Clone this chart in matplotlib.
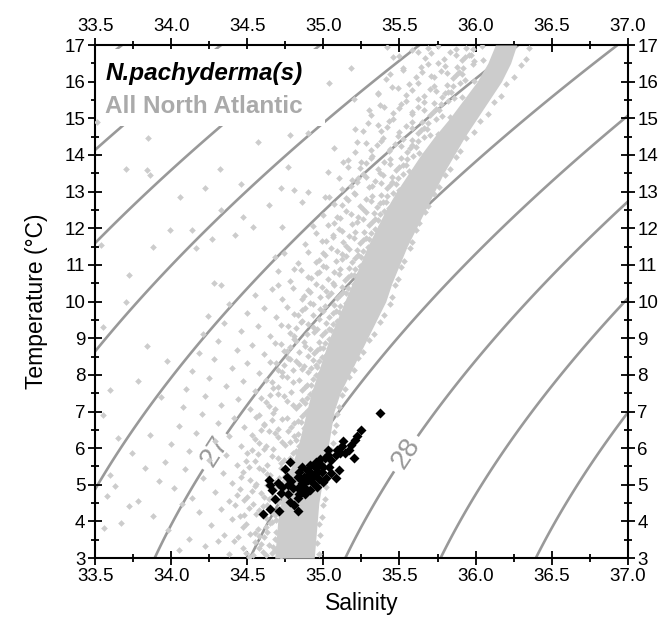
import numpy as np
import matplotlib
matplotlib.use("Agg")
import matplotlib.pyplot as plt
from matplotlib.patches import Rectangle
from matplotlib.ticker import MultipleLocator

plt.rcParams['font.family'] = ['Liberation Sans', 'DejaVu Sans']

# ── Data ─────────────────────────────────────────────────────────────────────
# dense core of the North Atlantic cloud: salinity bounds per temperature
CORE_T = [3.0, 3.5, 4.0, 4.5, 5.0, 5.5, 6.0, 6.5, 7.0, 7.5, 8.0, 8.5, 9.0, 9.5,
          10.0, 10.5, 11.0, 11.5, 12.0, 12.5, 13.0, 13.5, 14.0, 14.5, 15.0,
          15.5, 16.0, 16.5, 17.0]
CORE_LEFT = [34.68, 34.69, 34.70, 34.72, 34.75, 34.79, 34.83, 34.86, 34.89,
             34.92, 34.96, 35.00, 35.04, 35.09, 35.14, 35.19, 35.24, 35.29,
             35.35, 35.41, 35.48, 35.56, 35.64, 35.73, 35.83, 35.92, 36.01,
             36.08, 36.13]
CORE_RIGHT = [34.94, 34.95, 34.96, 34.97, 34.99, 35.01, 35.03, 35.05, 35.07,
              35.11, 35.17, 35.23, 35.29, 35.35, 35.41, 35.45, 35.50, 35.55,
              35.61, 35.67, 35.73, 35.79, 35.86, 35.93, 36.01, 36.09, 36.17,
              36.23, 36.27]

# All North Atlantic stations (salinity, temperature)
ATLANTIC_LOW = [
    (34.72, 3.05), (34.97, 3.12), (34.70, 3.31), (34.96, 3.40), (34.68, 3.22),
    (34.62, 3.08), (34.58, 3.27), (34.55, 3.44), (34.64, 3.36), (34.49, 3.15),
    (34.60, 3.18), (34.38, 3.10), (34.22, 3.33), (34.05, 3.21), (34.31, 3.46),
    (34.71, 3.55), (34.98, 3.62), (34.73, 3.88), (34.97, 3.93), (34.69, 3.71),
    (34.61, 3.58), (34.57, 3.79), (34.65, 3.95), (34.52, 3.66), (34.63, 3.70),
    (34.47, 3.84), (34.35, 3.64), (34.26, 3.91), (34.12, 3.53), (33.98, 3.76),
    (33.56, 3.82), (33.67, 3.96),
    (34.73, 4.05), (34.99, 4.12), (34.72, 4.38), (35.00, 4.44), (34.70, 4.22),
    (34.62, 4.10), (34.58, 4.31), (34.54, 4.47), (34.66, 4.26), (34.48, 4.18),
    (34.60, 4.41), (34.40, 4.08), (34.33, 4.35), (34.18, 4.27), (34.07, 4.49),
    (33.88, 4.15), (33.72, 4.42),
    (34.75, 4.55), (35.01, 4.62), (34.74, 4.85), (35.02, 4.94), (34.72, 4.72),
    (34.64, 4.60), (34.59, 4.79), (34.55, 4.96), (34.67, 4.69), (34.50, 4.66),
    (34.45, 4.88), (34.38, 4.57), (34.29, 4.81), (34.14, 4.63), (34.02, 4.92),
    (33.78, 4.55), (33.58, 4.70), (33.63, 4.98),
    (34.78, 5.06), (35.02, 5.14), (34.77, 5.38), (35.04, 5.45), (34.75, 5.23),
    (34.68, 5.08), (34.63, 5.29), (34.58, 5.47), (34.71, 5.18), (34.52, 5.12),
    (34.47, 5.36), (34.40, 5.05), (34.34, 5.31), (34.21, 5.19), (34.09, 5.42),
    (33.92, 5.11), (33.83, 5.46), (33.60, 5.28),
    (34.81, 5.56), (35.04, 5.63), (34.80, 5.88), (35.05, 5.95), (34.78, 5.72),
    (34.72, 5.59), (34.66, 5.80), (34.61, 5.97), (34.74, 5.68), (34.55, 5.64),
    (34.50, 5.86), (34.43, 5.54), (34.36, 5.82), (34.25, 5.69), (34.12, 5.91),
    (33.96, 5.62), (33.74, 5.87),
    (34.84, 6.05), (35.06, 6.13), (34.83, 6.38), (35.07, 6.45), (34.82, 6.22),
    (34.75, 6.09), (34.70, 6.30), (34.64, 6.47), (34.78, 6.18), (34.58, 6.14),
    (34.53, 6.37), (34.46, 6.06), (34.38, 6.33), (34.29, 6.19), (34.16, 6.41),
    (34.00, 6.12), (33.86, 6.36), (33.65, 6.27),
    (34.87, 6.55), (35.08, 6.62), (34.86, 6.88), (35.09, 6.94), (34.85, 6.72),
    (34.79, 6.59), (34.73, 6.80), (34.67, 6.97), (34.81, 6.68), (34.61, 6.64),
    (34.56, 6.86), (34.48, 6.57), (34.41, 6.82), (34.31, 6.69), (34.20, 6.93),
    (34.05, 6.61), (33.55, 6.90),
    (34.90, 7.05), (35.10, 7.12), (34.89, 7.38), (35.12, 7.45), (34.88, 7.22),
    (34.82, 7.09), (34.76, 7.30), (34.70, 7.47), (34.84, 7.18), (34.64, 7.14),
    (34.59, 7.36), (34.52, 7.06), (34.44, 7.33), (34.33, 7.19), (34.22, 7.42),
    (34.08, 7.11), (33.93, 7.39), (33.60, 7.60),
    (34.94, 7.55), (35.14, 7.62), (34.93, 7.88), (35.17, 7.95), (34.92, 7.72),
    (34.86, 7.59), (34.80, 7.80), (34.73, 7.97), (34.88, 7.68), (34.67, 7.64),
    (34.62, 7.86), (34.55, 7.56), (34.47, 7.83), (34.36, 7.69), (34.25, 7.92),
    (34.10, 7.61), (33.78, 7.84),
]

ATLANTIC_MID = [
    (34.98, 8.05), (35.20, 8.13), (34.97, 8.38), (35.23, 8.45), (34.96, 8.22),
    (34.90, 8.09), (34.84, 8.30), (34.77, 8.47), (34.92, 8.18), (34.70, 8.14),
    (34.65, 8.36), (34.58, 8.06), (34.50, 8.33), (34.40, 8.19), (34.28, 8.42),
    (34.14, 8.11), (33.97, 8.37), (34.87, 8.24), (34.93, 8.41), (34.80, 8.12),
    (34.74, 8.27),
    (35.02, 8.55), (35.26, 8.62), (35.01, 8.88), (35.30, 8.94), (35.00, 8.72),
    (34.94, 8.59), (34.88, 8.80), (34.81, 8.97), (34.96, 8.68), (34.74, 8.64),
    (34.68, 8.86), (34.61, 8.57), (34.53, 8.82), (34.43, 8.69), (34.31, 8.93),
    (34.18, 8.61), (33.84, 8.78), (34.91, 8.71), (34.97, 8.90), (34.84, 8.62),
    (34.78, 8.76),
    (35.07, 9.05), (35.33, 9.12), (35.06, 9.38), (35.37, 9.45), (35.05, 9.22),
    (34.99, 9.09), (34.93, 9.30), (34.86, 9.47), (35.01, 9.18), (34.78, 9.14),
    (34.72, 9.36), (34.65, 9.06), (34.57, 9.33), (34.46, 9.19), (34.35, 9.42),
    (34.21, 9.11), (33.55, 9.30), (34.96, 9.24), (35.02, 9.41), (34.89, 9.12),
    (34.82, 9.27),
    (35.12, 9.55), (35.40, 9.62), (35.11, 9.88), (35.44, 9.94), (35.10, 9.72),
    (35.04, 9.59), (34.98, 9.80), (34.91, 9.97), (35.06, 9.68), (34.83, 9.64),
    (34.76, 9.86), (34.69, 9.57), (34.61, 9.83), (34.50, 9.69), (34.38, 9.92),
    (34.24, 9.61), (33.70, 9.98), (35.00, 9.74), (35.07, 9.91), (34.93, 9.62),
    (34.86, 9.77),
    (35.17, 10.05), (35.45, 10.13), (35.16, 10.38), (35.47, 10.45), (35.15, 10.22),
    (35.09, 10.09), (35.02, 10.30), (34.95, 10.47), (35.11, 10.18), (34.87, 10.14),
    (34.80, 10.36), (34.73, 10.06), (34.66, 10.33), (34.55, 10.19), (35.05, 10.24),
    (35.12, 10.41), (34.98, 10.12), (34.91, 10.27),
    (35.22, 10.55), (35.49, 10.62), (35.21, 10.88), (35.51, 10.94), (35.20, 10.72),
    (35.14, 10.59), (35.07, 10.80), (35.00, 10.97), (35.16, 10.68), (34.92, 10.64),
    (34.85, 10.86), (34.78, 10.57), (34.70, 10.83), (35.10, 10.74), (35.17, 10.91),
    (35.03, 10.62), (34.96, 10.77),
    (35.27, 11.05), (35.53, 11.12), (35.26, 11.38), (35.57, 11.45), (35.25, 11.22),
    (35.19, 11.09), (35.12, 11.30), (35.05, 11.47), (35.21, 11.18), (34.97, 11.14),
    (34.90, 11.36), (34.83, 11.06), (34.74, 11.33), (35.15, 11.24), (35.22, 11.41),
    (35.08, 11.12), (35.01, 11.27),
    (35.32, 11.55), (35.58, 11.62), (35.31, 11.88), (35.61, 11.94), (35.30, 11.72),
    (35.24, 11.59), (35.17, 11.80), (35.10, 11.97), (35.26, 11.68), (35.02, 11.64),
    (34.95, 11.86), (34.88, 11.57), (35.20, 11.74), (35.27, 11.91), (35.13, 11.62),
    (35.06, 11.77),
    (35.38, 12.05), (35.63, 12.13), (35.37, 12.38), (35.67, 12.45), (35.36, 12.22),
    (35.30, 12.09), (35.23, 12.30), (35.15, 12.47), (35.32, 12.18), (35.07, 12.14),
    (35.00, 12.36), (34.93, 12.06), (35.26, 12.24), (35.33, 12.41), (35.19, 12.12),
    (35.11, 12.27),
    (35.43, 12.55), (35.69, 12.62), (35.42, 12.88), (35.73, 12.94), (35.41, 12.72),
    (35.35, 12.59), (35.28, 12.80), (35.20, 12.97), (35.37, 12.68), (35.12, 12.64),
    (35.04, 12.86), (35.31, 12.74), (35.38, 12.91), (35.24, 12.62), (35.16, 12.77),
]

ATLANTIC_HIGH = [
    (35.50, 13.05), (35.76, 13.12), (35.49, 13.38), (35.80, 13.45), (35.48, 13.22),
    (35.42, 13.09), (35.34, 13.30), (35.26, 13.47), (35.44, 13.18), (35.18, 13.14),
    (35.10, 13.36), (35.38, 13.24), (35.45, 13.41), (35.30, 13.12), (35.22, 13.27),
    (35.56, 13.55), (35.83, 13.62), (35.55, 13.88), (35.87, 13.94), (35.54, 13.72),
    (35.48, 13.59), (35.40, 13.80), (35.32, 13.97), (35.50, 13.68), (35.24, 13.64),
    (35.16, 13.86), (35.44, 13.74), (35.51, 13.91), (35.36, 13.62), (35.28, 13.77),
    (35.63, 14.05), (35.90, 14.12), (35.62, 14.38), (35.94, 14.45), (35.61, 14.22),
    (35.55, 14.09), (35.47, 14.30), (35.39, 14.47), (35.57, 14.18), (35.31, 14.14),
    (35.22, 14.36), (35.51, 14.24), (35.58, 14.41), (35.43, 14.12), (35.35, 14.27),
    (35.70, 14.55), (35.99, 14.62), (35.69, 14.88), (36.03, 14.94), (35.68, 14.72),
    (35.62, 14.59), (35.54, 14.80), (35.46, 14.97), (35.64, 14.68), (35.38, 14.64),
    (35.29, 14.86), (35.21, 14.70), (35.58, 14.74), (35.65, 14.91), (35.50, 14.62),
    (35.42, 14.77),
    (35.78, 15.05), (36.08, 15.12), (35.77, 15.38), (36.12, 15.45), (35.76, 15.22),
    (35.70, 15.09), (35.62, 15.30), (35.54, 15.47), (35.72, 15.18), (35.46, 15.14),
    (35.37, 15.36), (35.30, 15.22), (35.66, 15.24), (35.73, 15.41), (35.58, 15.12),
    (35.50, 15.27),
    (35.86, 15.55), (36.17, 15.62), (35.85, 15.88), (36.20, 15.94), (35.84, 15.72),
    (35.78, 15.59), (35.70, 15.80), (35.62, 15.97), (35.80, 15.68), (35.54, 15.64),
    (35.45, 15.86), (35.36, 15.70), (35.74, 15.74), (35.81, 15.91), (35.66, 15.62),
    (35.58, 15.77),
    (35.93, 16.05), (36.25, 16.12), (35.92, 16.38), (36.30, 16.45), (35.91, 16.22),
    (35.85, 16.09), (35.77, 16.30), (35.69, 16.47), (35.87, 16.18), (35.61, 16.14),
    (35.52, 16.36), (35.44, 16.20), (35.81, 16.24), (35.88, 16.41), (35.73, 16.12),
    (35.65, 16.27),
    (35.99, 16.55), (36.33, 16.62), (35.98, 16.88), (36.35, 16.92), (35.97, 16.72),
    (35.91, 16.59), (35.83, 16.80), (35.75, 16.96), (35.93, 16.68), (35.67, 16.64),
    (35.58, 16.86), (35.50, 16.70), (35.42, 16.95), (35.87, 16.74), (35.94, 16.91),
    (35.79, 16.62), (35.71, 16.77),
]

# denser speckle just left of the core
ATLANTIC_FILL = [
    (34.51, 3.03), (34.66, 3.13), (34.47, 3.27), (34.59, 3.39), (34.70, 3.46),
    (34.54, 3.08), (34.67, 3.31), (34.41, 3.48), (34.44, 3.57), (34.68, 3.52),
    (34.55, 3.68), (34.72, 3.77), (34.49, 3.93), (34.62, 3.86), (34.58, 3.61),
    (34.66, 3.98), (34.69, 4.03), (34.45, 4.14), (34.56, 4.21), (34.74, 4.29),
    (34.63, 4.45), (34.51, 4.37), (34.68, 4.17), (34.42, 4.46), (34.71, 4.53),
    (34.48, 4.58), (34.61, 4.66), (34.76, 4.77), (34.53, 4.84), (34.69, 4.91),
    (34.43, 4.73), (34.63, 4.99), (34.56, 5.02), (34.74, 5.11), (34.46, 5.21),
    (34.65, 5.27), (34.79, 5.33), (34.60, 5.41), (34.51, 5.49), (34.72, 5.46),
    (34.63, 5.53), (34.80, 5.61), (34.49, 5.66), (34.70, 5.74), (34.57, 5.83),
    (34.82, 5.91), (34.67, 5.99), (34.53, 5.95), (34.86, 6.02), (34.62, 6.07),
    (34.73, 6.16), (34.55, 6.26), (34.81, 6.33), (34.68, 6.42), (34.59, 6.49),
    (34.77, 6.46), (34.70, 6.51), (34.89, 6.58), (34.61, 6.66), (34.83, 6.74),
    (34.76, 6.81), (34.58, 6.91), (34.88, 6.96), (34.66, 6.77), (34.92, 7.03),
    (34.68, 7.08), (34.80, 7.17), (34.62, 7.26), (34.86, 7.31), (34.74, 7.41),
    (34.91, 7.48), (34.65, 7.44), (34.79, 7.52), (34.96, 7.57), (34.70, 7.66),
    (34.89, 7.73), (34.66, 7.81), (34.84, 7.87), (34.95, 7.99), (34.76, 7.93),
    (35.00, 8.03), (34.73, 8.08), (34.86, 8.16), (34.95, 8.26), (34.69, 8.32),
    (34.82, 8.39), (34.99, 8.48), (34.78, 8.44), (34.90, 8.52), (35.05, 8.58),
    (34.76, 8.66), (34.98, 8.74), (34.72, 8.83), (34.87, 8.89), (35.04, 8.97),
    (34.82, 8.93), (35.10, 9.03), (34.81, 9.07), (34.94, 9.16), (35.04, 9.26),
    (34.77, 9.32), (34.90, 9.39), (35.09, 9.48), (34.85, 9.44), (34.97, 9.52),
    (35.14, 9.58), (34.81, 9.66), (35.08, 9.73), (34.88, 9.82), (35.01, 9.88),
    (35.15, 9.97), (34.93, 9.93), (35.19, 10.03), (34.86, 10.08), (35.03, 10.16),
    (35.13, 10.26), (34.90, 10.32), (34.99, 10.39), (35.20, 10.48), (35.07, 10.44),
    (35.06, 10.52), (35.25, 10.58), (34.90, 10.66), (35.18, 10.73), (34.97, 10.82),
    (35.11, 10.89), (35.24, 10.97), (35.02, 10.93), (35.30, 11.03), (34.95, 11.08),
    (35.12, 11.16), (35.23, 11.26), (35.00, 11.32), (35.09, 11.39), (35.29, 11.48),
    (35.17, 11.44), (35.15, 11.52), (35.35, 11.58), (34.99, 11.66), (35.28, 11.73),
    (35.06, 11.82), (35.21, 11.89), (35.34, 11.97), (35.12, 11.93), (35.41, 12.03),
    (35.03, 12.08), (35.22, 12.16), (35.34, 12.26), (35.09, 12.32), (35.18, 12.39),
    (35.40, 12.48), (35.28, 12.44), (35.26, 12.52), (35.47, 12.58), (35.07, 12.66),
    (35.39, 12.73), (35.15, 12.82), (35.32, 12.89), (35.46, 12.97), (35.21, 12.93),
    (35.53, 13.03), (35.12, 13.08), (35.32, 13.16), (35.45, 13.26), (35.19, 13.32),
    (35.28, 13.39), (35.52, 13.48), (35.39, 13.44), (35.37, 13.52), (35.60, 13.58),
    (35.16, 13.66), (35.52, 13.73), (35.25, 13.82), (35.44, 13.89), (35.59, 13.97),
    (35.31, 13.93), (35.67, 14.03), (35.21, 14.08), (35.44, 14.16), (35.58, 14.26),
    (35.28, 14.32), (35.38, 14.39), (35.66, 14.48), (35.52, 14.44), (35.49, 14.52),
    (35.75, 14.58), (35.26, 14.66), (35.66, 14.73), (35.36, 14.82), (35.58, 14.89),
    (35.74, 14.97), (35.43, 14.93), (35.83, 15.03), (35.31, 15.08), (35.58, 15.16),
    (35.74, 15.26), (35.40, 15.32), (35.51, 15.39), (35.82, 15.48), (35.66, 15.44),
    (35.62, 15.52), (35.91, 15.58), (35.36, 15.66), (35.82, 15.73), (35.49, 15.82),
    (35.73, 15.89), (35.90, 15.97), (35.56, 15.93), (35.99, 16.03), (35.41, 16.08),
    (35.71, 16.16), (35.89, 16.26), (35.52, 16.32), (35.64, 16.39), (35.98, 16.48),
    (35.80, 16.44), (35.75, 16.52), (36.05, 16.58), (35.46, 16.66), (35.96, 16.73),
    (35.62, 16.82), (35.87, 16.89), (36.04, 16.97), (35.69, 16.93),
]

ATLANTIC_SCATTER = [
    (35.18, 16.36), (35.04, 15.95), (35.20, 15.54), (34.90, 14.59), (34.78, 14.54),
    (34.57, 14.36), (35.07, 14.18), (33.85, 14.45), (33.70, 13.63), (33.84, 13.59),
    (33.86, 13.45), (34.32, 13.63), (34.46, 13.22), (34.22, 13.09), (34.06, 12.86),
    (34.77, 13.68), (34.72, 13.09), (34.81, 13.04), (34.90, 13.00), (35.01, 12.86),
    (34.64, 12.63), (34.33, 12.50), (34.47, 12.31), (34.54, 12.04), (34.73, 12.04),
    (33.99, 11.95), (34.14, 11.95), (33.88, 11.50), (34.16, 11.45), (34.27, 11.72),
    (34.42, 11.81), (33.72, 10.72), (33.54, 11.54), (34.28, 10.50), (34.33, 10.45),
    (34.68, 11.22), (34.81, 10.90), (34.86, 12.72), (35.03, 13.54), (35.13, 13.82),
    (35.23, 13.36), (33.51, 14.90), (34.70, 10.45),
]

# N. pachyderma (s) core tops (salinity, temperature)
PACHY = [
    (35.37, 6.95), (35.25, 6.49), (35.22, 6.34), (35.21, 6.22), (35.13, 6.19),
    (35.12, 6.06), (35.17, 5.96), (35.14, 5.86), (35.20, 5.74), (35.08, 5.81),
    (35.03, 5.95), (35.05, 5.67), (35.01, 5.72), (34.98, 5.58), (35.04, 5.49),
    (34.95, 5.45), (34.99, 5.36), (34.92, 5.31), (34.89, 5.40), (34.78, 5.63),
    (34.75, 5.43), (34.84, 5.36), (34.87, 5.22), (34.90, 5.13), (34.86, 5.04),
    (34.83, 5.22), (34.79, 5.10), (34.77, 4.99), (34.83, 4.92), (34.88, 4.90),
    (34.93, 5.06), (34.97, 5.17), (35.02, 5.19), (35.08, 5.19), (34.96, 4.95),
    (34.64, 5.13), (34.65, 4.99), (34.66, 4.86), (34.72, 4.79), (34.73, 4.95),
    (34.68, 4.61), (34.77, 4.76), (34.83, 4.63), (34.88, 4.74), (34.81, 4.45),
    (34.83, 4.28), (34.71, 4.28), (34.65, 4.34), (34.60, 4.20), (34.90, 5.27),
    (34.93, 5.22), (35.00, 5.49), (34.96, 5.36), (34.91, 5.54), (34.86, 5.49),
    (34.85, 5.16), (34.80, 4.90), (34.86, 4.81), (34.91, 4.86), (34.76, 5.22),
    (34.70, 5.04), (35.00, 5.08), (35.05, 5.31), (35.10, 5.40), (35.03, 5.81),
    (35.11, 5.86), (35.09, 5.95), (35.18, 6.10), (34.98, 5.70), (34.95, 5.61),
    (34.88, 5.08), (34.84, 4.76), (34.78, 4.54),
]

PLAIN_LEVELS = [24.5, 25.0, 25.5, 26.0, 26.5, 27.5, 28.5, 29.0, 29.5]
LABELLED_LEVELS = [27.0, 28.0]
LABEL_SPOTS = [(34.20, 6.13), (35.42, 6.17)]


def sigma_t(S, T):
    """UNESCO (1981) surface density anomaly."""
    rw = (999.842594 + 6.793952e-2 * T - 9.095290e-3 * T**2 + 1.001685e-4 * T**3
          - 1.120083e-6 * T**4 + 6.536332e-9 * T**5)
    A = 8.24493e-1 - 4.0899e-3 * T + 7.6438e-5 * T**2 - 8.2467e-7 * T**3 + 5.3875e-9 * T**4
    B = -5.72466e-3 + 1.0227e-4 * T - 1.6546e-6 * T**2
    C = 4.8314e-4
    return rw + A * S + B * S**1.5 + C * S**2 - 1000.0


# ── Plot ─────────────────────────────────────────────────────────────────────
fig = plt.figure(figsize=(6.65, 6.25), dpi=100)
ax = fig.add_axes([0.143, 0.107, 0.801, 0.821])

ss, tt = np.meshgrid(np.linspace(33.4, 37.1, 300), np.linspace(2.8, 17.2, 300))
sig = sigma_t(ss, tt)
ax.contour(ss, tt, sig, levels=PLAIN_LEVELS, colors="#999999",
           linewidths=1.9, zorder=1)
cs = ax.contour(ss, tt, sig, levels=LABELLED_LEVELS, colors="#999999",
                linewidths=1.9, zorder=1)
ax.clabel(cs, fmt="%d", fontsize=20, colors="#999999", inline=True,
          inline_spacing=5, manual=LABEL_SPOTS)

# white box behind the key texts
ax.add_patch(Rectangle((0.0, 0.842), 0.432, 0.15, transform=ax.transAxes,
                       facecolor="white", edgecolor="none", zorder=2))

ax.fill_betweenx(CORE_T, CORE_LEFT, CORE_RIGHT, color="#cccccc", lw=0, zorder=3)
for block in (ATLANTIC_LOW, ATLANTIC_MID, ATLANTIC_HIGH, ATLANTIC_FILL,
              ATLANTIC_SCATTER):
    s, t = np.array(block).T
    ax.plot(s, t, "D", ms=3.4, color="#cccccc", mec="none", zorder=3)

ps, pt = np.array(PACHY).T
ax.plot(ps, pt, "D", ms=5.2, color="black", mec="none", zorder=4)

ax.text(0.019, 0.932, "N.pachyderma(s)", transform=ax.transAxes,
        fontsize=17.5, fontweight="bold", fontstyle="italic", color="black",
        va="baseline", zorder=5)
ax.text(0.019, 0.867, "All North Atlantic", transform=ax.transAxes,
        fontsize=17.5, fontweight="bold", color="#aaaaaa",
        va="baseline", zorder=5)

ax.set_xlim(33.5, 37.0)
ax.set_ylim(3, 17)
ax.xaxis.set_major_locator(MultipleLocator(0.5))
ax.xaxis.set_minor_locator(MultipleLocator(0.25))
ax.yaxis.set_major_locator(MultipleLocator(1))
ax.yaxis.set_minor_locator(MultipleLocator(0.5))
ax.xaxis.set_major_formatter(plt.FormatStrFormatter("%.1f"))
ax.tick_params(which="both", direction="inout", top=True, right=True,
               labeltop=True, labelright=True, width=1.3, labelsize=13.5)
ax.tick_params(which="major", length=10, pad=2)
ax.tick_params(which="minor", length=6)
for sp in ax.spines.values():
    sp.set_linewidth(1.5)

ax.set_xlabel("Salinity", fontsize=16.5, labelpad=5)
ax.set_ylabel("Temperature (°C)", fontsize=16.5, labelpad=12)

fig.savefig("out.png", dpi=100)
